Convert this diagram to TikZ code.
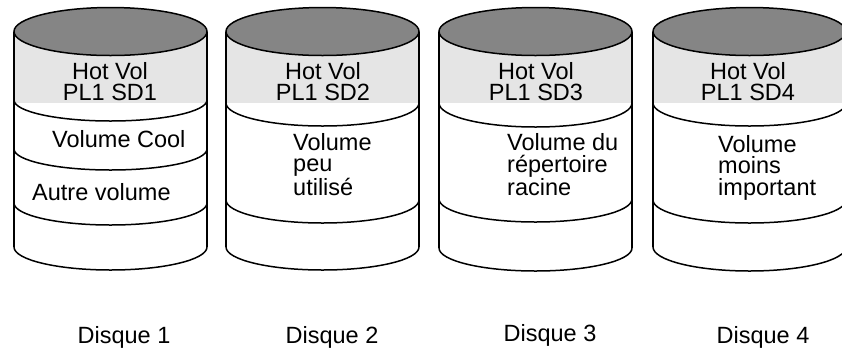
\documentclass[tikz,border=0pt]{standalone}
\usepackage{fontspec}
\setmainfont{Liberation Sans}
\begin{document}
\begin{tikzpicture}[x=1pt,y=-1pt,
  edge/.style={line width=1.5pt, black},
  topcap/.style={fill=black!48, draw=black, line width=1.5pt},
  band/.style={fill=black!10},
  lbl/.style={inner sep=0pt, font=\fontsize{23.5}{21.5}\selectfont, align=left},
  hot/.style={inner sep=0pt, font=\fontsize{23.5}{20.5}\selectfont, align=center},
]
\useasboundingbox (0,0) rectangle (842,349);
\clip (0,0) rectangle (842,349);
\def\rx{96.5}
% cylinders: center x ; arcs list (side y / radius)
\foreach \cx/\arcs/\bot in {110.5/{100/21,149/21,203/22,247/23}/247,
                            322.5/{103/23,200/23,247/23}/247,
                            535.5/{103/24,199/23,248/23}/248,
                            749.5/{103/23,200/23,247/24}/247}{
  \fill[band] (\cx-\rx,31.5) rectangle (\cx+\rx,103);
  \draw[topcap] (\cx,31.5) ellipse [x radius=\rx, y radius=24];
  \draw[edge] (\cx-\rx,31.5) -- (\cx-\rx,\bot);
  \draw[edge] (\cx+\rx,31.5) -- (\cx+\rx,\bot);
  \foreach \ys/\r in \arcs {
    \draw[edge] (\cx-\rx,\ys) arc[start angle=180, end angle=0, x radius=\rx, y radius=\r];
  }
}
% gray band labels (base anchor = baseline of last line)
\node[hot, anchor=base] (hot1) at (110,100) {Hot Vol\\PL1 SD1};
\node[hot, anchor=base] (hot2) at (323,100) {Hot Vol\\PL1 SD2};
\node[hot, anchor=base] (hot3) at (536,100) {Hot Vol\\PL1 SD3};
\node[hot, anchor=base] (hot4) at (748,100) {Hot Vol\\PL1 SD4};
% volume labels
\node[lbl, anchor=base west] (cool) at (52,147) {Volume Cool};
\node[lbl, anchor=base west] (autre) at (32,200) {Autre volume};
\node[lbl, anchor=base west] (peu) at (293,195) {Volume\\peu\\utilisé};
\node[lbl, anchor=base west] (racine) at (507,195) {Volume du\\répertoire\\racine};
\node[lbl, anchor=base west] (moins) at (718,195) {Volume\\moins\\important};
% disk names
\node[lbl, anchor=base] (d1) at (124,343) {Disque 1};
\node[lbl, anchor=base] (d2) at (332,343) {Disque 2};
\node[lbl, anchor=base] (d3) at (550,341) {Disque 3};
\node[lbl, anchor=base] (d4) at (763,343) {Disque 4};
\end{tikzpicture}
\end{document}
